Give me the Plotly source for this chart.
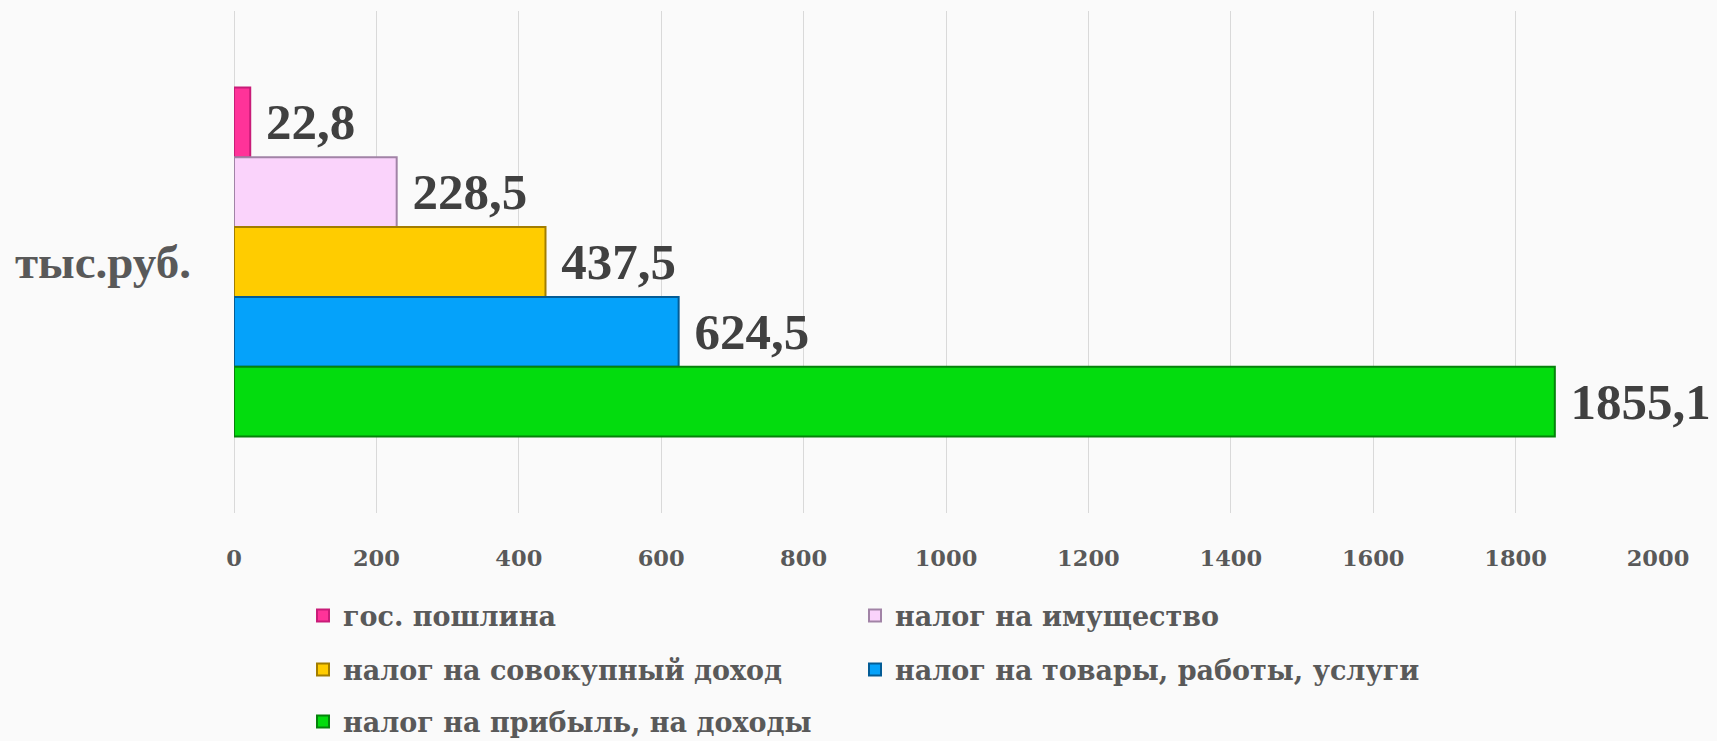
import plotly.graph_objects as go

# ---- data ----
category = ["тыс.руб."]
series_names = [
    "гос. пошлина",
    "налог на имущество",
    "налог на совокупный доход",
    "налог на товары, работы, услуги",
    "налог на прибыль, на доходы",
]
series_values = [22.8, 228.5, 437.5, 624.5, 1855.1]
x_ticks = [0, 200, 400, 600, 800, 1000, 1200, 1400, 1600, 1800, 2000]

# ---- styles ----
fill_colors = ["#FF3399", "#FAD3FB", "#FFCC00", "#05A2FA", "#03DC0E"]
edge_colors = ["#C81C78", "#A183A6", "#A27D00", "#035C96", "#05820B"]
legend_ids = ["legend", "legend2", "legend3", "legend4", "legend5"]
# legend slot (column, row) for each series, in pixels of the page
legend_px = [(303, 616), (855, 616), (303, 670), (855, 670), (303, 722)]

fig = go.Figure()
for name, val, fc, ec, lg in zip(series_names, series_values, fill_colors, edge_colors, legend_ids):
    fig.add_trace(go.Bar(
        y=category,
        x=[val],
        name=name,
        orientation="h",
        marker=dict(color=fc, line=dict(color=ec, width=2)),
        texttemplate="\u00a0%{x:.1f}",
        textposition="outside",
        textfont=dict(family="Liberation Serif", size=51, color="#404040", weight="bold"),
        cliponaxis=False,
        constraintext="none",
        legend=lg,
    ))

W, H = 1717, 741
ml, mr, mt, mb = 234, 59, 11, 228
plot_w = W - ml - mr
plot_h = H - mt - mb

legends = {}
for lg, (px, py) in zip(legend_ids, legend_px):
    legends[lg] = dict(
        orientation="h",
        xanchor="left",
        yanchor="middle",
        x=(px - ml) / plot_w,
        y=(H - mb - py) / plot_h,
        bgcolor="rgba(0,0,0,0)",
        font=dict(family="DejaVu Serif", size=27, color="#595959", weight="bold"),
        itemclick=False,
        itemdoubleclick=False,
    )

fig.update_layout(
    width=W,
    height=H,
    margin=dict(l=ml, r=mr, t=mt, b=mb, autoexpand=False),
    paper_bgcolor="#fafafa",
    plot_bgcolor="rgba(0,0,0,0)",
    barmode="group",
    bargap=0.305,
    bargroupgap=0,
    separators=", ",
    showlegend=True,
    xaxis=dict(
        range=[0, 2000],
        tickvals=x_ticks,
        ticktext=[str(v) for v in x_ticks],
        showgrid=True,
        gridcolor="#d9d9d9",
        gridwidth=1.3,
        zeroline=True,
        zerolinecolor="#d9d9d9",
        zerolinewidth=1.3,
        showline=False,
        ticks="",
        ticklabelstandoff=29,
        tickfont=dict(family="DejaVu Serif", size=22.5, color="#595959", weight="bold"),
    ),
    yaxis=dict(
        autorange="reversed",
        showgrid=False,
        showline=False,
        zeroline=False,
        ticks="",
        ticklabelstandoff=42,
        tickfont=dict(family="Liberation Serif", size=47, color="#595959", weight="bold"),
    ),
    **legends,
)

fig.write_html("out.html", config={"displayModeBar": False})

# remove the default page margin so the figure fills the window exactly
with open("out.html", "r", encoding="utf-8") as f:
    html = f.read()
html = html.replace(
    "<head>",
    "<head><style>html,body{margin:0;padding:0;overflow:hidden;background:#fafafa}</style>",
    1,
)
with open("out.html", "w", encoding="utf-8") as f:
    f.write(html)
